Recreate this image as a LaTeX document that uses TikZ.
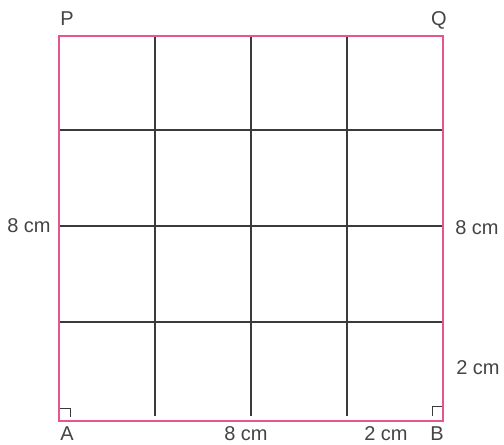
\documentclass[tikz,border=0pt]{standalone}
\usepackage{fontspec}
\setmainfont{Liberation Sans}
\definecolor{edgepink}{HTML}{E6558F}
\definecolor{gridgray}{HTML}{3A3A3A}
\definecolor{txtgray}{HTML}{444444}
\begin{document}
\begin{tikzpicture}[x=1pt,y=-1pt,
  border/.style={draw=edgepink,line width=2pt},
  gridline/.style={draw=gridgray,line width=1.2pt},
  anglemark/.style={draw=gridgray,line width=1pt},
  lbl/.style={text=txtgray,font=\fontsize{20}{20}\selectfont,inner sep=0pt}]
\useasboundingbox (0,0) rectangle (504,445);
% grid
\foreach \x in {155,251,347} \draw[gridline] (\x,36) -- (\x,416);
\foreach \y in {130,226,322} \draw[gridline] (59,\y) -- (443,\y);
% square
\coordinate (A) at (59,421);
\coordinate (B) at (443,421);
\coordinate (Q) at (443,36);
\coordinate (P) at (59,36);
\draw[border] (A) -- (B) -- (Q) -- (P) -- cycle;
% right angle marks
\draw[anglemark] (60,408) -- (70,408) -- (70,417);
\draw[anglemark] (432,416) -- (432,406) -- (442,406);
% labels
\node[lbl] (lP) at (67,19) {P};
\node[lbl] (lQ) at (439,20) {Q};
\node[lbl] (lA) at (67,434) {A};
\node[lbl] (lB) at (437,434) {B};
\node[lbl] (l8l) at (29,226) {8 cm};
\node[lbl] (l8r) at (477,228) {8 cm};
\node[lbl] (l2r) at (478,368) {2 cm};
\node[lbl] (l2b) at (386,434) {2 cm};
\node[lbl] (l8b) at (246,434) {8 cm};
\end{tikzpicture}
\end{document}
